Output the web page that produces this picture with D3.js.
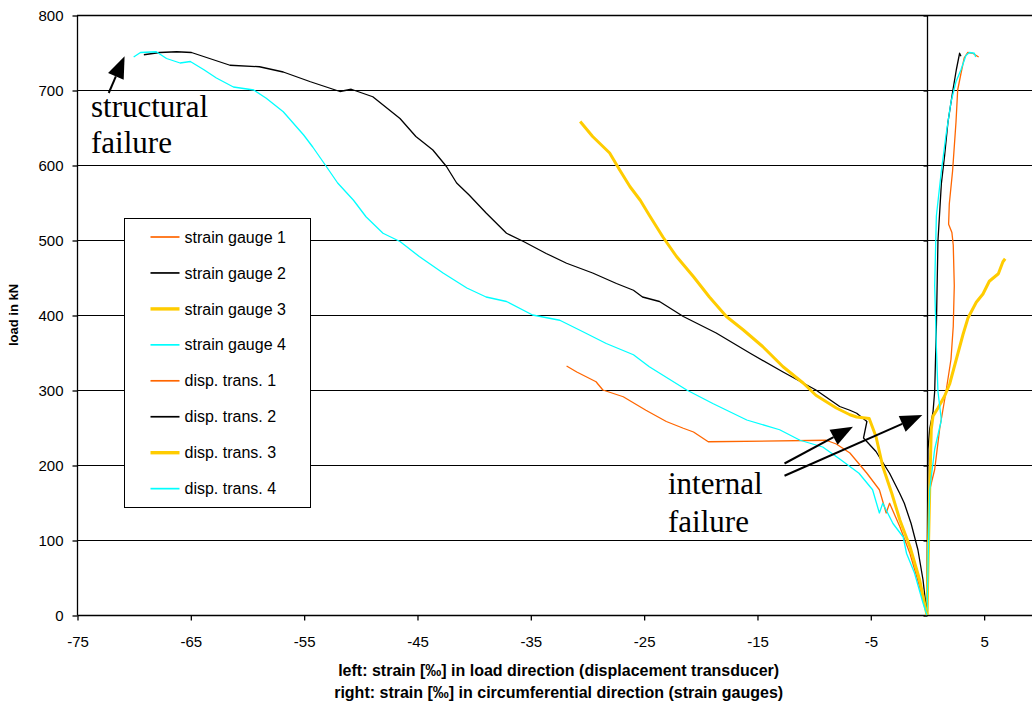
<!DOCTYPE html>
<html>
<head>
<meta charset="utf-8">
<script src="https://cdn.jsdelivr.net/npm/d3@7"></script>
<style>
  html, body { margin: 0; padding: 0; background: #fff; overflow: hidden; }
  svg { display: block; }
</style>
</head>
<body>
<svg id="chart" width="1032" height="708"></svg>
<script>
// Tick values
const xTicks = [-75, -65, -55, -45, -35, -25, -15, -5, 5];
const yTicks = [0, 100, 200, 300, 400, 500, 600, 700, 800];

// Strain gauges (right side, circumferential strain) [strain, load]
const strainGauge1 = [[0, 0], [0.24, 167], [0.68, 194], [1.12, 248], [1.68, 298], [2.12, 341], [2.32, 385],
  [2.41, 439], [2.32, 493], [2.2, 510], [1.91, 521], [1.97, 548], [2.26, 592], [2.56, 657], [2.71, 700],
  [3.0, 722], [3.29, 743], [3.59, 750], [4.03, 749], [4.56, 744]];
const strainGauge2 = [[0, 0], [0.09, 221], [0.24, 248], [0.53, 270], [0.68, 298], [0.83, 385], [0.97, 499],
  [1.27, 575], [1.56, 613], [1.85, 657], [2.29, 700], [2.59, 727], [2.88, 749], [3.0, 745]];
const strainGauge3 = [[0, 0], [0.24, 167], [0.38, 248], [0.53, 265], [0.97, 276], [1.56, 292], [2.0, 308],
  [2.59, 341], [3.18, 374], [3.62, 396], [4.35, 417], [4.94, 428], [5.5, 445], [6.3, 455], [6.7, 471], [6.9, 475]];
const strainGauge4 = [[0, 0], [0.24, 167], [0.68, 221], [1.27, 260], [0.97, 298], [0.83, 357], [0.68, 439],
  [0.83, 532], [1.27, 592], [1.68, 640], [2.12, 684], [2.56, 711], [3.0, 727], [3.44, 746], [3.74, 750],
  [4.18, 749], [4.3, 744]];

// Displacement transducers (left side, strain in load direction) [strain, load]
const dispTrans1 = [[0, 0], [-0.65, 38], [-1.5, 82], [-2.4, 118], [-3.3, 149], [-3.6, 136], [-4.2, 167],
  [-5.3, 189], [-6.8, 216], [-8.0, 228], [-8.9, 233], [-19.3, 231], [-20.6, 244], [-21.5, 249], [-23.0, 258],
  [-24.8, 273], [-26.8, 291], [-28.6, 300], [-29.2, 311], [-30.9, 324], [-31.8, 332]];
const dispTrans2 = [[0, 0], [-0.35, 47], [-0.8, 87], [-1.4, 122], [-2.0, 149], [-2.4, 162], [-3.3, 189],
  [-4.5, 218], [-5.6, 236], [-5.3, 258], [-6.2, 269], [-6.8, 273], [-7.7, 278], [-9.8, 300], [-12.7, 324],
  [-15.6, 349], [-18.6, 376], [-21.5, 398], [-23.6, 418], [-25.1, 424], [-25.9, 433], [-27.4, 442],
  [-29.5, 456], [-31.8, 469], [-33.6, 482], [-35.6, 498], [-37.1, 509], [-38.9, 536], [-40.4, 560],
  [-41.5, 576], [-42.4, 598], [-43.6, 620], [-45.1, 638], [-46.5, 662], [-48.9, 691], [-50.8, 701],
  [-51.8, 698], [-54.4, 711], [-56.8, 724], [-58.9, 731], [-61.5, 733], [-63.3, 742], [-64.9, 750],
  [-66.2, 751], [-67.7, 750], [-69.1, 747]];
const dispTrans3 = [[0, 0], [-0.65, 47], [-1.5, 91], [-2.4, 127], [-3.1, 162], [-3.9, 198], [-4.5, 238],
  [-5.1, 262], [-6.2, 264], [-6.8, 267], [-8.0, 276], [-9.8, 293], [-10.9, 309], [-12.7, 331], [-14.5, 358],
  [-16.2, 380], [-17.7, 398], [-19.2, 424], [-20.6, 451], [-22.1, 478], [-23.3, 504], [-24.5, 533],
  [-25.3, 553], [-26.2, 571], [-27.1, 593], [-28.0, 616], [-29.5, 638], [-30.6, 658]];
const dispTrans4 = [[0, 0], [-0.35, 16], [-1.1, 56], [-1.8, 82], [-2.1, 104], [-3.0, 122], [-3.9, 149],
  [-4.2, 136], [-4.8, 167], [-6.0, 189], [-7.7, 208], [-9.2, 224], [-11.2, 233], [-13.0, 247], [-15.9, 260],
  [-18.9, 282], [-21.2, 300], [-24.5, 331], [-25.9, 347], [-28.3, 362], [-30.4, 378], [-32.4, 393],
  [-34.8, 400], [-37.1, 418], [-38.9, 424], [-40.6, 436], [-42.7, 456], [-44.8, 478], [-46.5, 498],
  [-48.0, 509], [-49.5, 531], [-50.6, 553], [-52.0, 576], [-53.0, 598], [-54.2, 624], [-55.0, 640],
  [-56.8, 671], [-58.3, 689], [-59.4, 700], [-61.2, 704], [-62.7, 716], [-63.8, 727], [-65.0, 738],
  [-65.9, 736], [-67.1, 742], [-68.0, 751], [-69.4, 750], [-70.0, 744]];

const seriesNames = ['strain gauge 1', 'strain gauge 2', 'strain gauge 3', 'strain gauge 4',
  'disp. trans. 1', 'disp. trans. 2', 'disp. trans. 3', 'disp. trans. 4'];
const seriesValues = [strainGauge1, strainGauge2, strainGauge3, strainGauge4,
  dispTrans1, dispTrans2, dispTrans3, dispTrans4];

// Annotation arrows in data units: [tail, tip]
const annotationArrows = [
  [[-72.2, 696], [-70.8, 745]],
  [[-12.57, 202], [-6.53, 251]],
  [[-12.57, 185.7], [-0.41, 266.7]]
];

const colors = ['#FF6600', '#000000', '#FFCC00', '#00FFFF'];
const widths = [1.3, 1.3, 3, 1.3];

const svg = d3.select('#chart');
const plot = { left: 77, top: 15, right: 1040.3, bottom: 615 };

const x = d3.scaleLinear().domain([-75, 10]).range([plot.left, plot.right]);
const y = d3.scaleLinear().domain([0, 800]).range([plot.bottom, plot.top]);

svg.append('rect').attr('width', 1032).attr('height', 708).attr('fill', '#fff');

// Horizontal gridlines
svg.append('g')
  .selectAll('line')
  .data(yTicks.filter(d => d > 0))
  .join('line')
  .attr('x1', plot.left)
  .attr('x2', plot.right)
  .attr('y1', d => Math.round(y(d)) + 0.5)
  .attr('y2', d => Math.round(y(d)) + 0.5)
  .style('stroke', '#000')
  .style('stroke-width', 1);

// Left axis
const yAxis = svg.append('g')
  .attr('transform', `translate(${plot.left + 0.5},0.5)`)
  .call(d3.axisLeft(y).tickValues(yTicks).tickSize(5).tickPadding(9).tickFormat(d => String(d)));
yAxis.selectAll('text').style('font-family', 'Liberation Sans, Arial, sans-serif').style('font-size', '15px');
yAxis.selectAll('line, path').style('stroke', '#000').style('stroke-width', 1.3);
yAxis.select('.domain').attr('d', `M0,${plot.top}V${plot.bottom}`);

// Bottom axis (plain hyphen for negatives, as in the original)
const xAxis = svg.append('g')
  .attr('transform', `translate(0.5,${plot.bottom + 0.5})`)
  .call(d3.axisBottom(x).tickValues(xTicks).tickSize(5).tickPadding(16).tickFormat(d => String(d)));
xAxis.selectAll('text').style('font-family', 'Liberation Sans, Arial, sans-serif').style('font-size', '15px');
xAxis.selectAll('line, path').style('stroke', '#000').style('stroke-width', 1.3);
xAxis.select('.domain').attr('d', `M${plot.left},0H${plot.right}`);

// Vertical line at zero strain with its own ticks
const zeroAxis = svg.append('g')
  .attr('transform', `translate(${Math.round(x(0)) + 0.5},0.5)`)
  .call(d3.axisLeft(y).tickValues(yTicks).tickSize(4).tickFormat(''));
zeroAxis.selectAll('line, path').style('stroke', '#000').style('stroke-width', 1.3);
zeroAxis.select('.domain').attr('d', `M0,${plot.top}V${plot.bottom}`);

// Top border
svg.append('line')
  .attr('x1', plot.left).attr('x2', plot.right)
  .attr('y1', plot.top + 0.5).attr('y2', plot.top + 0.5)
  .style('stroke', '#000').style('stroke-width', 1.3);

// Series lines
const line = d3.line().x(d => x(d[0])).y(d => y(d[1]));
svg.append('g')
  .selectAll('path')
  .data(seriesValues)
  .join('path')
  .attr('d', line)
  .style('fill', 'none')
  .style('stroke', (d, i) => colors[i % 4])
  .style('stroke-width', (d, i) => widths[i % 4])
  .style('stroke-linejoin', 'round');

// Annotation arrows
function drawArrow(tail, tip, headLen, headWidth) {
  const x0 = x(tail[0]), y0 = y(tail[1]);
  const x1 = x(tip[0]), y1 = y(tip[1]);
  const ang = Math.atan2(y1 - y0, x1 - x0);
  const bx = x1 - headLen * Math.cos(ang), by = y1 - headLen * Math.sin(ang);
  const nx = -Math.sin(ang) * headWidth / 2, ny = Math.cos(ang) * headWidth / 2;
  svg.append('line')
    .attr('x1', x0).attr('y1', y0).attr('x2', bx).attr('y2', by)
    .style('stroke', '#000').style('stroke-width', 2);
  svg.append('path')
    .attr('d', `M${x1},${y1}L${bx + nx},${by + ny}L${bx - nx},${by - ny}Z`)
    .style('fill', '#000');
}
annotationArrows.forEach(a => drawArrow(a[0], a[1], 22, 17));

// Annotation text
const serif = 'Liberation Serif, Times New Roman, serif';
svg.append('text').attr('x', 91).attr('y', 117).text('structural')
  .style('font-family', serif).style('font-size', '31px');
svg.append('text').attr('x', 91).attr('y', 153).text('failure')
  .style('font-family', serif).style('font-size', '31px');
svg.append('text').attr('x', 668).attr('y', 494).text('internal')
  .style('font-family', serif).style('font-size', '31px');
svg.append('text').attr('x', 668).attr('y', 532).text('failure')
  .style('font-family', serif).style('font-size', '31px');

// Legend
const legend = svg.append('g').attr('transform', 'translate(124.5,218.5)');
legend.append('rect')
  .attr('width', 186).attr('height', 289)
  .style('fill', '#fff').style('stroke', '#000').style('stroke-width', 1);
const item = legend.selectAll('g.item')
  .data(seriesNames)
  .join('g')
  .attr('class', 'item')
  .attr('transform', (d, i) => `translate(0,${18.5 + i * 35.95})`);
item.append('line')
  .attr('x1', 26).attr('x2', 55)
  .style('stroke', (d, i) => colors[i % 4])
  .style('stroke-width', (d, i) => widths[i % 4] + 0.4);
item.append('text')
  .attr('x', 60).attr('dy', '0.35em')
  .text(d => d)
  .style('font-family', 'Liberation Sans, Arial, sans-serif')
  .style('font-size', '16px');

// Axis titles
svg.append('text')
  .attr('transform', `translate(18,${(plot.top + plot.bottom) / 2}) rotate(-90)`)
  .attr('text-anchor', 'middle')
  .text('load in kN')
  .style('font-family', 'Liberation Sans, Arial, sans-serif')
  .style('font-size', '13px').style('font-weight', 'bold');
const xMid = (plot.left + plot.right) / 2;
svg.append('text').attr('x', xMid).attr('y', 676).attr('text-anchor', 'middle')
  .text('left: strain [‰] in load direction (displacement transducer)')
  .style('font-family', 'Liberation Sans, Arial, sans-serif')
  .style('font-size', '16px').style('font-weight', 'bold');
svg.append('text').attr('x', xMid).attr('y', 697.5).attr('text-anchor', 'middle')
  .text('right: strain [‰] in circumferential direction (strain gauges)')
  .style('font-family', 'Liberation Sans, Arial, sans-serif')
  .style('font-size', '16px').style('font-weight', 'bold');
</script>
</body>
</html>
